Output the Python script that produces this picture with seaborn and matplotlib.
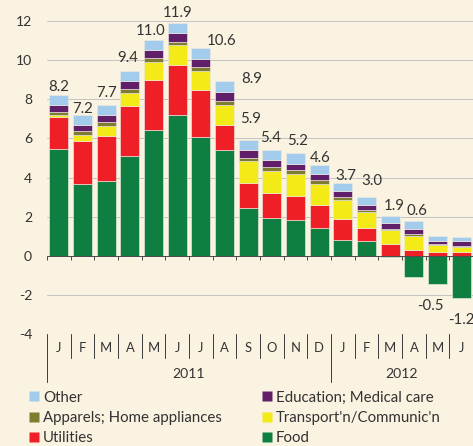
import numpy as np
import pandas as pd
import matplotlib
matplotlib.use("Agg")
import matplotlib.pyplot as plt
from matplotlib.lines import Line2D
import seaborn as sns

# contributions to inflation, percentage points
months = ["J", "F", "M", "A", "M", "J", "J", "A", "S", "O", "N", "D",
          "J", "F", "M", "A", "M", "J"]
years = [2011] * 12 + [2012] * 6

food = [5.46, 3.69, 3.81, 5.11, 6.45, 7.17, 6.09, 5.38, 2.47, 1.96, 1.86, 1.41,
        0.83, 0.78, -0.07, -1.09, -1.45, -2.12]
utilities = [1.64, 2.17, 2.32, 2.55, 2.55, 2.58, 2.35, 1.29, 1.26, 1.24, 1.22, 1.21,
             1.08, 0.65, 0.60, 0.32, 0.22, 0.19]
transport = [0.08, 0.30, 0.51, 0.65, 0.87, 0.99, 0.99, 1.04, 1.09, 1.14, 1.11, 1.07,
             0.95, 0.82, 0.73, 0.72, 0.32, 0.29]
apparel = [0.14, 0.20, 0.17, 0.20, 0.21, 0.17, 0.20, 0.20, 0.20, 0.20, 0.20, 0.17,
           0.14, 0.10, 0.07, 0.07, 0.06, 0.05]
education = [0.37, 0.32, 0.37, 0.41, 0.41, 0.44, 0.41, 0.45, 0.36, 0.35, 0.32, 0.33,
             0.30, 0.27, 0.27, 0.27, 0.17, 0.22]
other = [0.50, 0.53, 0.53, 0.49, 0.51, 0.55, 0.56, 0.56, 0.54, 0.54, 0.52, 0.44,
         0.43, 0.39, 0.37, 0.39, 0.27, 0.24]
totals = [8.2, 7.2, 7.7, 9.4, 11.0, 11.9, 10.6, 8.9, 5.9, 5.4, 5.2, 4.6,
          3.7, 3.0, 1.9, 0.6, -0.5, -1.2]

# label nudges in px (from bar end)
label_dx = [0, 0, 0, -2, -3, 0, 21, 27, 2, -1, 2, 1, 3, 5, 4, 3.5, -7, 0]
label_dy = [8, 6, 12, 13, 9, 10, 7, 2, 21, 12, 12, 7, 7, 16, 10, 10, -22, -22]

stack = [
    ("Food", food, "#0E7F40"),
    ("Utilities", utilities, "#EE1F26"),
    ("Transport'n/Communic'n", transport, "#F3EA17"),
    ("Apparels; Home appliances", apparel, "#7E7D2F"),
    ("Education; Medical care", education, "#621F69"),
    ("Other", other, "#A3CCEC"),
]

sns.set_style("white")
plt.rcParams["font.family"] = ["Lato", "DejaVu Sans"]
plt.rcParams["axes.unicode_minus"] = False

BG = "#FBF3E1"
TXT = "#333333"
DPI = 72
W, H = 473, 446
top_px, bot_px = 20.7, 334.4
ax_h = bot_px - top_px

fig = plt.figure(figsize=(W / DPI, H / DPI), dpi=DPI, facecolor=BG)
ax = fig.add_axes([47 / W, 1 - bot_px / H, 1 - 47 / W, ax_h / H])
ax.set_facecolor(BG)

periods = [f"{y}-{i}" for i, y in enumerate(years)]
df = pd.DataFrame({"period": periods})
for name, vals, _ in stack:
    df[name] = vals

pos = np.zeros(len(periods))
neg = np.zeros(len(periods))
for name, vals, color in stack:
    v = np.asarray(vals)
    bottom = np.where(v >= 0, pos, neg)
    sns.barplot(data=df, x="period", y=name, order=periods, bottom=bottom,
                color=color, saturation=1, width=0.8, edgecolor="#ECEAE0",
                linewidth=0.6, ax=ax, zorder=3)
    pos += np.clip(v, 0, None)
    neg += np.clip(v, None, 0)

ax.set_xlim(-0.5, len(periods) - 0.5)
ax.set_ylim(-4, 12)
for s in ax.spines.values():
    s.set_visible(False)
ax.set_xticks([])
ax.set_xlabel("")
ax.set_ylabel("")
ax.set_yticks(range(-4, 13, 2))
ax.tick_params(axis="y", length=0, pad=15, labelsize=14, labelcolor=TXT)

for v in range(-2, 13, 2):
    if v != 0:
        ax.axhline(v, color="#C4C4C4", lw=1, zorder=1)
ax.axhline(0, color="#4D4D4D", lw=1, zorder=4)
ax.vlines(np.arange(-0.5, len(periods)), -0.2, 0, color="#4D4D4D", lw=1, zorder=4)

# category axis at the bottom
trans = ax.get_xaxis_transform()
for i in range(len(periods)):
    long = i == 0 or years[i] != years[i - 1]
    depth = (48 if long else 24) / ax_h
    ax.plot([i - 0.5, i - 0.5], [0, -depth], transform=trans, color="#404040",
            lw=1, clip_on=False)
    ax.text(i, -14 / ax_h, months[i], transform=trans, ha="center", va="center",
            fontsize=13, color=TXT)
for y in sorted(set(years)):
    idx = [i for i, yy in enumerate(years) if yy == y]
    ax.text(np.mean(idx), -40 / ax_h, str(y), transform=trans, ha="center",
            va="center", fontsize=14, color=TXT)

# totals
for i, t in enumerate(totals):
    anchor = pos[i] if t >= 0 else neg[i]
    ax.annotate(f"{t:.1f}", xy=(i, anchor), xytext=(label_dx[i], label_dy[i]),
                textcoords="offset points", ha="center", va="center",
                fontsize=15, color=TXT, annotation_clip=False)

colors = {name: c for name, _, c in stack}
order = ["Other", "Apparels; Home appliances", "Utilities",
         "Education; Medical care", "Transport'n/Communic'n", "Food"]
handles = [Line2D([], [], marker="s", ls="", markersize=10, markerfacecolor=colors[n],
                  markeredgecolor="none", label=n) for n in order]
fig.legend(handles=handles, ncol=2, loc="upper left",
           bbox_to_anchor=(28 / W, 1 - 390.5 / H), frameon=False, fontsize=15,
           handlelength=0.8, handletextpad=0.2, columnspacing=2.6,
           labelspacing=0.42, borderpad=0, borderaxespad=0, labelcolor=TXT)

fig.savefig("out.png", dpi=DPI, facecolor=BG)
